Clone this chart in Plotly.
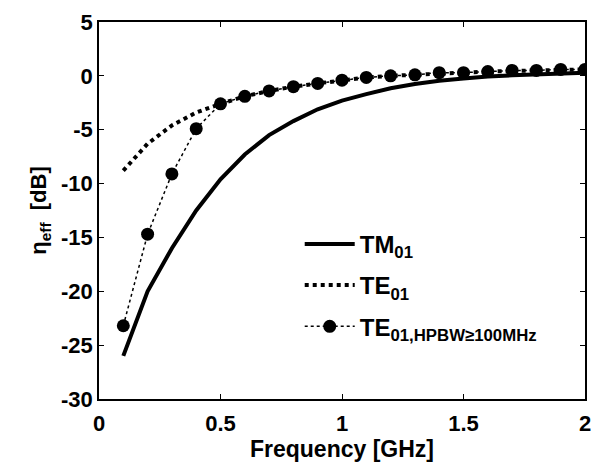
import plotly.graph_objects as go

freq = [0.1, 0.2, 0.3, 0.4, 0.5, 0.6, 0.7, 0.8, 0.9, 1.0,
        1.1, 1.2, 1.3, 1.4, 1.5, 1.6, 1.7, 1.8, 1.9, 2.0]
tm01 = [-26.0, -20.0, -16.0, -12.5, -9.6, -7.3, -5.5, -4.2, -3.1, -2.3,
        -1.7, -1.15, -0.75, -0.45, -0.25, -0.05, 0.05, 0.15, 0.2, 0.3]
te01 = [-8.8, -6.3, -4.6, -3.4, -2.6, -1.9, -1.4, -1.0, -0.7, -0.4,
        -0.15, 0.0, 0.1, 0.25, 0.3, 0.4, 0.45, 0.5, 0.55, 0.6]
te01_hpbw = [-23.2, -14.7, -9.1, -4.9, -2.6, -1.9, -1.4, -1.0, -0.7, -0.4,
             -0.15, 0.0, 0.1, 0.3, 0.3, 0.4, 0.5, 0.5, 0.6, 0.6]

xticks = [0, 0.5, 1, 1.5, 2]
xtick_labels = ["0", "0.5", "1", "1.5", "2"]
yticks = [5, 0, -5, -10, -15, -20, -25, -30]

font_family = "Liberation Sans, Arial, sans-serif"

fig = go.Figure()
fig.add_trace(go.Scatter(
    x=freq, y=tm01, mode="lines", name="<b>TM<sub>01</sub></b>",
    legendgroup="a", line=dict(color="black", width=4)))
fig.add_trace(go.Scatter(
    x=freq, y=te01, mode="lines", name="<b>TE<sub>01</sub></b>",
    legendgroup="b", line=dict(color="black", width=4, dash="dot")))
fig.add_trace(go.Scatter(
    x=freq, y=te01_hpbw, mode="lines+markers",
    name="<b>TE<sub>01,HPBW≥100MHz</sub></b>", legendgroup="c",
    line=dict(color="black", width=1.5, dash="dot"),
    marker=dict(color="black", size=13, symbol="circle")))

fig.update_layout(
    width=601, height=464,
    margin=dict(l=99, r=10, t=16, b=65),
    plot_bgcolor="white", paper_bgcolor="white",
    font=dict(family=font_family, size=22, color="black"),
    showlegend=True,
    legend=dict(x=0.413, y=0.47, xanchor="left", yanchor="top",
                bgcolor="rgba(0,0,0,0)", borderwidth=0,
                font=dict(size=24, family=font_family, color="black"),
                itemwidth=50, tracegroupgap=7),
)
fig.update_xaxes(
    range=[0, 2], tickvals=xticks, ticktext=["<b>%s</b>" % t for t in xtick_labels],
    ticks="inside", ticklen=5, tickwidth=1, tickcolor="black",
    showline=True, linecolor="black", linewidth=1.5, mirror="ticks",
    showgrid=False, zeroline=False, ticklabelstandoff=4,
    title=dict(text="<b>Frequency [GHz]</b>", standoff=0, font=dict(size=23)),
)
fig.update_yaxes(
    range=[-30, 5], tickvals=yticks, ticktext=["<b>%d</b>" % t for t in yticks],
    ticks="inside", ticklen=5, tickwidth=1, tickcolor="black",
    showline=True, linecolor="black", linewidth=1.5, mirror="ticks",
    showgrid=False, zeroline=False,
    title=dict(text="<b>η<sub>eff</sub>  [dB]</b>", standoff=8, font=dict(size=22)),
)

fig.write_html("out.html", config={"displayModeBar": False},
               post_script="document.body.style.margin='0';")
